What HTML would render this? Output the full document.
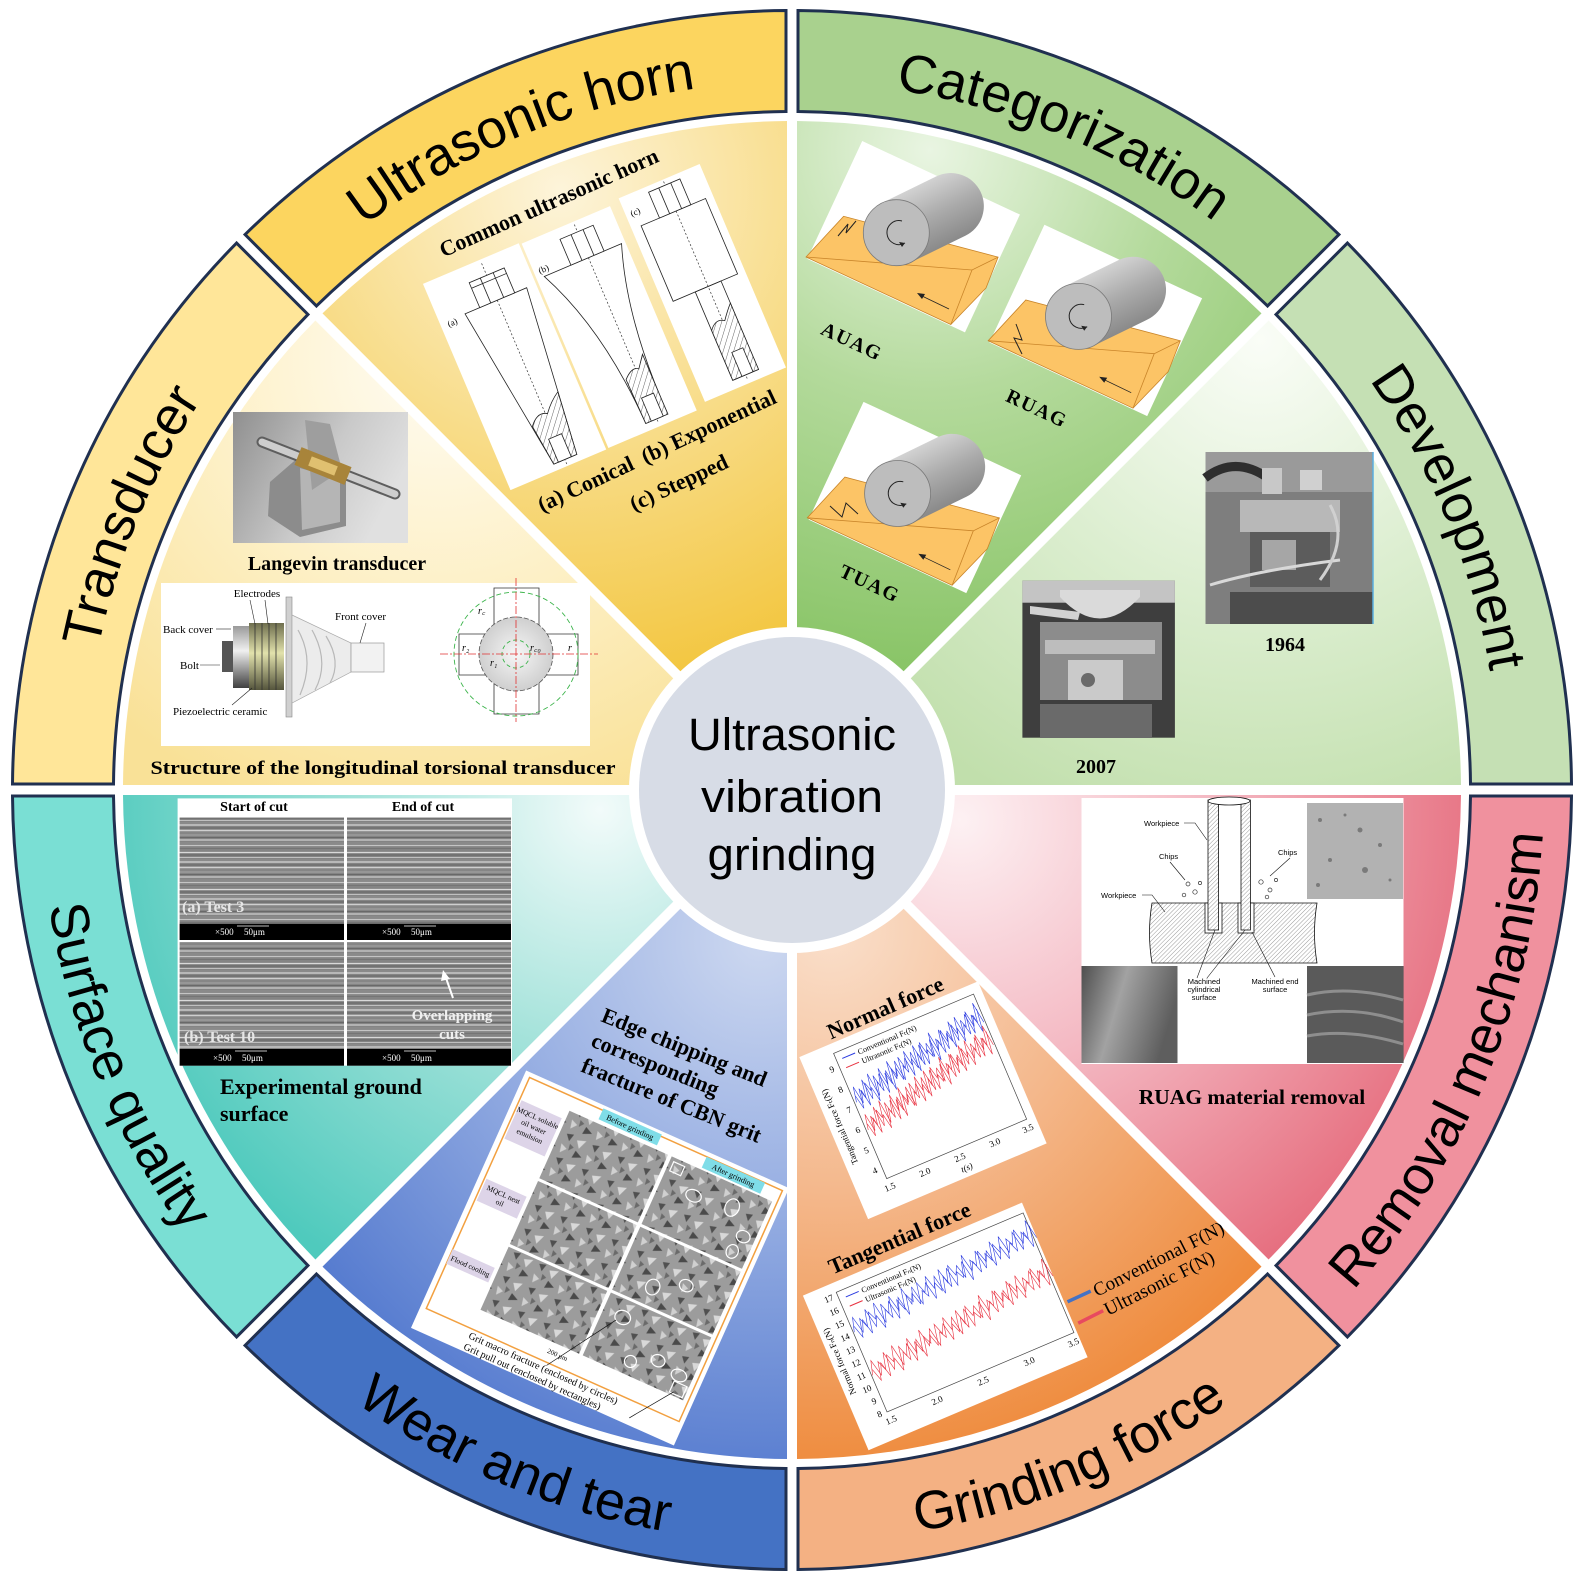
<!DOCTYPE html>
<html><head><meta charset="utf-8"><title>Ultrasonic vibration grinding</title>
<style>
html,body{margin:0;padding:0;background:#fff;}
svg{display:block;}
.rl{font-family:"Liberation Sans",Arial,sans-serif;font-size:54px;fill:#000;}
.sb{font-family:"Liberation Serif","Times New Roman",serif;font-weight:bold;fill:#000;}
.sr{font-family:"Liberation Serif","Times New Roman",serif;fill:#000;}
.ss{font-family:"Liberation Sans",Arial,sans-serif;fill:#000;}
.ln{fill:none;stroke:#222;stroke-width:0.8;}
.lw{fill:#fff;stroke:#222;stroke-width:0.8;}
</style></head><body>
<svg xmlns="http://www.w3.org/2000/svg" xmlns:xlink="http://www.w3.org/1999/xlink" width="1586" height="1583" viewBox="0 0 1586 1583">
<defs>
<radialGradient id="gHorn" gradientUnits="userSpaceOnUse" cx="560" cy="190" r="580"><stop offset="0" stop-color="#FDF4DA"/><stop offset="0.45" stop-color="#F8DC88"/><stop offset="1" stop-color="#F1BF28"/></radialGradient>
<radialGradient id="gTra" gradientUnits="userSpaceOnUse" cx="440" cy="360" r="480"><stop offset="0" stop-color="#FFFCF3"/><stop offset="0.5" stop-color="#FDF0C6"/><stop offset="1" stop-color="#F9E197"/></radialGradient>
<radialGradient id="gCat" gradientUnits="userSpaceOnUse" cx="930" cy="150" r="540"><stop offset="0" stop-color="#E9F5E2"/><stop offset="0.45" stop-color="#B4DA9C"/><stop offset="1" stop-color="#86C363"/></radialGradient>
<radialGradient id="gDev" gradientUnits="userSpaceOnUse" cx="1260" cy="340" r="520"><stop offset="0" stop-color="#FAFDF7"/><stop offset="0.5" stop-color="#DCEED0"/><stop offset="1" stop-color="#C1DFAC"/></radialGradient>
<radialGradient id="gRem" gradientUnits="userSpaceOnUse" cx="960" cy="820" r="560"><stop offset="0" stop-color="#FDF1F3"/><stop offset="0.45" stop-color="#F4B9C3"/><stop offset="1" stop-color="#E5697A"/></radialGradient>
<radialGradient id="gGri" gradientUnits="userSpaceOnUse" cx="830" cy="930" r="580"><stop offset="0" stop-color="#FADFCB"/><stop offset="0.45" stop-color="#F4B88C"/><stop offset="1" stop-color="#EE8532"/></radialGradient>
<radialGradient id="gWea" gradientUnits="userSpaceOnUse" cx="760" cy="940" r="600"><stop offset="0" stop-color="#CDD8F0"/><stop offset="0.45" stop-color="#95ADE2"/><stop offset="1" stop-color="#4A72CC"/></radialGradient>
<radialGradient id="gSur" gradientUnits="userSpaceOnUse" cx="600" cy="810" r="520"><stop offset="0" stop-color="#F2FBFA"/><stop offset="0.45" stop-color="#A6E3DB"/><stop offset="1" stop-color="#4FCABD"/></radialGradient>
<linearGradient id="cylG" gradientUnits="userSpaceOnUse" x1="882" y1="203" x2="911" y2="262"><stop offset="0" stop-color="#D2D2D2"/><stop offset="0.5" stop-color="#ABABAB"/><stop offset="1" stop-color="#8A8A8A"/></linearGradient>
<linearGradient id="photoL" x1="0" y1="0" x2="1" y2="0.4"><stop offset="0" stop-color="#8F8F8F"/><stop offset="0.6" stop-color="#C9C9C9"/><stop offset="1" stop-color="#E0E0E0"/></linearGradient>
<linearGradient id="elec" x1="0" y1="0" x2="0" y2="1"><stop offset="0" stop-color="#6E6E4E"/><stop offset="0.45" stop-color="#E2E2AC"/><stop offset="1" stop-color="#55553C"/></linearGradient>
<linearGradient id="back" x1="0" y1="0" x2="0" y2="1"><stop offset="0" stop-color="#9A9A9A"/><stop offset="0.4" stop-color="#F0F0F0"/><stop offset="1" stop-color="#404040"/></linearGradient>
<linearGradient id="bl" x1="0" y1="0" x2="1" y2="0.3"><stop offset="0" stop-color="#4E4E4E"/><stop offset="0.45" stop-color="#A2A2A2"/><stop offset="1" stop-color="#5E5E5E"/></linearGradient>
<radialGradient id="disc"><stop offset="0" stop-color="#F6F6F6"/><stop offset="1" stop-color="#CFCFCF"/></radialGradient>
<pattern id="hatch" patternUnits="userSpaceOnUse" width="5" height="5" patternTransform="rotate(40)"><rect width="5" height="5" fill="#fff"/><line x1="0" y1="0" x2="0" y2="5" stroke="#222" stroke-width="0.7"/></pattern>
<pattern id="hatch2" patternUnits="userSpaceOnUse" width="3" height="3" patternTransform="rotate(45)"><rect width="3" height="3" fill="#fff"/><line x1="0" y1="0" x2="0" y2="3" stroke="#555" stroke-width="0.6"/></pattern>
<pattern id="str" patternUnits="userSpaceOnUse" width="80" height="37">
<rect width="80" height="37" fill="#848484"/>
<line x1="0" y1="1.5" x2="80" y2="1.5" stroke="#D8D8D8" stroke-width="1.2"/>
<line x1="0" y1="4" x2="80" y2="4" stroke="#555" stroke-width="0.8"/>
<line x1="0" y1="6.5" x2="80" y2="6.5" stroke="#BFBFBF" stroke-width="1"/>
<line x1="0" y1="9" x2="80" y2="9" stroke="#9A9A9A" stroke-width="0.6"/>
<line x1="0" y1="11" x2="80" y2="11" stroke="#EDEDED" stroke-width="0.9"/>
<line x1="0" y1="14" x2="80" y2="14" stroke="#5A5A5A" stroke-width="0.7"/>
<line x1="0" y1="16.5" x2="80" y2="16.5" stroke="#CFCFCF" stroke-width="1.4"/>
<line x1="0" y1="19" x2="80" y2="19" stroke="#8A8A8A" stroke-width="0.6"/>
<line x1="0" y1="21" x2="80" y2="21" stroke="#B5B5B5" stroke-width="0.8"/>
<line x1="0" y1="23.5" x2="80" y2="23.5" stroke="#4E4E4E" stroke-width="0.6"/>
<line x1="0" y1="26" x2="80" y2="26" stroke="#E0E0E0" stroke-width="1"/>
<line x1="0" y1="29" x2="80" y2="29" stroke="#969696" stroke-width="0.7"/>
<line x1="0" y1="31.5" x2="80" y2="31.5" stroke="#C4C4C4" stroke-width="1.2"/>
<line x1="0" y1="34.5" x2="80" y2="34.5" stroke="#666" stroke-width="0.6"/>
</pattern>
<pattern id="grit" patternUnits="userSpaceOnUse" width="28" height="26">
<rect width="28" height="26" fill="#9C9C9C"/>
<polygon points="3,4 10,2 8,10" fill="#505050"/>
<polygon points="15,6 24,3 20,13" fill="#D8D8D8"/>
<polygon points="18,16 26,20 17,24" fill="#4A4A4A"/>
<polygon points="2,15 9,18 4,24" fill="#D0D0D0"/>
<polygon points="10,12 15,14 11,19" fill="#6A6A6A"/>
</pattern>
<polyline id="nz" fill="none" vector-effect="non-scaling-stroke" points="0,2.4 3,-9.6 6,6 9,-3.6 12,10.8 15,-7.2 18,1.2 21,-12 24,8.4 27,-2.4 30,7.2 33,-10.8 36,4.8 39,-6 42,12 45,-4.8 48,3.6 51,-8.4 54,9.6 57,-1.2 60,6 63,-10.8 66,2.4 69,-7.2 72,10.8 75,-3.6 78,8.4 81,-9.6 84,1.2 87,-6 90,7.2 93,-12 96,4.8 99,-2.4 102,9.6 105,-8.4 108,3.6 111,-4.8 114,10.8 117,-7.2 120,2.4 123,-10.8 126,6 129,-1.2 132,8.4 135,-9.6 138,4.8 141,-3.6 144,12 147,-6"/>
<path id="tpHorn" d="M291.4,289.4 A708,708 0 0 1 792,82"/>
<path id="tpCat" d="M792,82 A708,708 0 0 1 1292.6,289.4"/>
<path id="tpDev" d="M1292.6,289.4 A708,708 0 0 1 1500,790"/>
<path id="tpTra" d="M84,790 A708,708 0 0 1 291.4,289.4"/>
<path id="tpRem" d="M1323.75,1321.75 A752,752 0 0 0 1544,790"/>
<path id="tpGri" d="M792,1542 A752,752 0 0 0 1323.75,1321.75"/>
<path id="tpWea" d="M260.25,1321.75 A752,752 0 0 0 792,1542"/>
<path id="tpSur" d="M40,790 A752,752 0 0 0 260.25,1321.75"/>
</defs>

<rect width="1586" height="1583" fill="#fff"/>

<!-- content sectors -->
<path d="M812,795 L1461,795 A669,669 0 0 1 1268.59,1259.51 L809.68,800.6 Z" fill="url(#gRem)"/>
<path d="M802.6,807.68 L1261.51,1266.59 A669,669 0 0 1 797,1459 L797,810 Z" fill="url(#gGri)"/>
<path d="M787,810 L787,1459 A669,669 0 0 1 322.49,1266.59 L781.4,807.68 Z" fill="url(#gWea)"/>
<path d="M774.32,800.6 L315.41,1259.51 A669,669 0 0 1 123,795 L772,795 Z" fill="url(#gSur)"/>
<path d="M772,785 L123,785 A669,669 0 0 1 315.41,320.49 L774.32,779.4 Z" fill="url(#gTra)"/>
<path d="M781.4,772.32 L322.49,313.41 A669,669 0 0 1 787,121 L787,770 Z" fill="url(#gHorn)"/>
<path d="M797,770 L797,121 A669,669 0 0 1 1261.51,313.41 L802.6,772.32 Z" fill="url(#gCat)"/>
<path d="M809.68,779.4 L1268.59,320.49 A669,669 0 0 1 1461,785 L812,785 Z" fill="url(#gDev)"/>

<!-- ===== HORN content ===== -->
<g transform="translate(514.6,366.7) rotate(-23)">
<rect x="-52" y="-112" width="104" height="224" fill="#fff"/>
<line x1="10" y1="-108" x2="10" y2="110" stroke="#333" stroke-width="0.7" stroke-dasharray="2 2"/>
<polygon points="-25,-68 42,-68 23,105 -2,105" class="ln"/>
<path d="M-7,62 Q3,50 12,56 Q20,46 30,40 L23,105 L-2,105 Z" fill="url(#hatch)" stroke="#222" stroke-width="0.8"/>
<rect x="3" y="80" width="14" height="25" class="lw"/>
<rect x="-9" y="-95" width="38" height="27" class="lw"/>
<line x1="-9" y1="-89" x2="29" y2="-89" class="ln"/>
<line x1="3" y1="-95" x2="3" y2="-68" class="ln"/><line x1="17" y1="-95" x2="17" y2="-68" class="ln"/>
<text x="-45" y="-62" font-size="9" class="sr">(a)</text>
</g>
<g transform="translate(609.2,327.1) rotate(-23)">
<rect x="-48" y="-111" width="96" height="222" fill="#fff"/>
<line x1="8" y1="-108" x2="8" y2="108" stroke="#333" stroke-width="0.7" stroke-dasharray="2 2"/>
<path d="M-40,-72 L44,-72 Q18,0 20,103 L-4,103 Q-6,0 -40,-72 Z" class="ln"/>
<path d="M-5,55 Q5,45 11,50 Q17,42 20,38 L20,103 L-4,103 Z" fill="url(#hatch)" stroke="#222" stroke-width="0.8"/>
<rect x="2" y="78" width="13" height="25" class="lw"/>
<rect x="-11" y="-100" width="36" height="28" class="lw"/>
<line x1="1" y1="-100" x2="1" y2="-72" class="ln"/><line x1="14" y1="-100" x2="14" y2="-72" class="ln"/>
<text x="-43" y="-76" font-size="9" class="sr">(b)</text>
</g>
<g transform="translate(702.1,282.5) rotate(-23)">
<rect x="-44" y="-110" width="88" height="221" fill="#fff"/>
<line x1="4" y1="-108" x2="4" y2="108" stroke="#333" stroke-width="0.7" stroke-dasharray="2 2"/>
<rect x="-34" y="-76" width="70" height="82" class="ln"/>
<rect x="-10" y="6" width="28" height="96" class="ln"/>
<path d="M-10,48 Q-2,38 6,44 Q12,36 18,30 L18,102 L-10,102 Z" fill="url(#hatch)" stroke="#222" stroke-width="0.8"/>
<rect x="0" y="76" width="12" height="26" class="lw"/>
<rect x="-14" y="-104" width="34" height="28" class="lw"/>
<line x1="-3" y1="-104" x2="-3" y2="-76" class="ln"/><line x1="10" y1="-104" x2="10" y2="-76" class="ln"/>
<text x="-39" y="-88" font-size="9" class="sr">(c)</text>
</g>
<text class="sb" font-size="22" text-anchor="middle" transform="translate(549,203) rotate(-24)" y="7">Common ultrasonic horn</text>
<text class="sb" font-size="22" text-anchor="middle" transform="translate(657,451) rotate(-25)" y="7">(a) Conical&#160; (b) Exponential</text>
<text class="sb" font-size="22" text-anchor="middle" transform="translate(679,483) rotate(-25)" y="7">(c) Stepped</text>

<!-- ===== TRANSDUCER content ===== -->
<rect x="233" y="412" width="175" height="131" fill="url(#photoL)"/>
<polygon points="270,482 300,456 346,470 346,526 300,537 268,516" fill="#8C8C8C"/>
<polygon points="300,468 340,480 340,522 302,530" fill="#B5B5B5"/>
<polygon points="305,420 330,424 342,470 312,490" fill="#9E9E9E"/>
<line x1="262" y1="442" x2="395" y2="494" stroke="#5E5E5E" stroke-width="11" stroke-linecap="round"/>
<line x1="262" y1="442" x2="395" y2="494" stroke="#CDCDCD" stroke-width="7" stroke-linecap="round"/>
<line x1="298" y1="456" x2="348" y2="476" stroke="#A8843A" stroke-width="19"/>
<line x1="310" y1="461" x2="336" y2="471" stroke="#E0C070" stroke-width="10"/>
<text x="337" y="570" text-anchor="middle" font-size="20" class="sb">Langevin transducer</text>

<rect x="161" y="583" width="429" height="163" fill="#fff"/>
<rect x="222" y="641" width="12" height="31" fill="#555"/>
<rect x="233" y="626" width="16" height="62" fill="url(#back)"/>
<rect x="249" y="623" width="35" height="67" fill="url(#elec)"/>
<g stroke="#333" stroke-width="0.8"><line x1="255" y1="623" x2="255" y2="690"/><line x1="262" y1="623" x2="262" y2="690"/><line x1="269" y1="623" x2="269" y2="690"/><line x1="276" y1="623" x2="276" y2="690"/></g>
<rect x="286" y="597" width="6" height="120" fill="#D0D0D0" stroke="#888" stroke-width="0.6"/>
<polygon points="292,615 351,643 351,672 292,703" fill="#ECECEC" stroke="#AAA" stroke-width="0.7"/>
<g stroke="#B8B8B8" stroke-width="1.2" fill="none"><path d="M298,630 Q315,660 300,695"/><path d="M312,630 Q330,662 315,690"/><path d="M326,636 Q342,662 330,683"/></g>
<rect x="351" y="643" width="33" height="29" fill="#F2F2F2" stroke="#999" stroke-width="0.7"/>
<g class="sr" font-size="11">
<text x="257" y="597" text-anchor="middle">Electrodes</text>
<text x="163" y="633">Back cover</text>
<text x="180" y="669">Bolt</text>
<text x="173" y="715">Piezoelectric ceramic</text>
<text x="335" y="620">Front cover</text>
</g>
<g stroke="#222" stroke-width="0.6" fill="none">
<line x1="250" y1="600" x2="255" y2="624"/><line x1="265" y1="600" x2="268" y2="624"/>
<line x1="216" y1="629" x2="231" y2="629"/><line x1="200" y1="665" x2="220" y2="665"/>
<line x1="232" y1="705" x2="252" y2="688"/><line x1="366" y1="623" x2="360" y2="643"/>
</g>
<path d="M494,588 L539,588 L539,634 L578,634 L578,675 L539,675 L539,714 L494,714 L494,675 L459,675 L459,634 L494,634 Z" fill="#fff" stroke="#333" stroke-width="0.8"/>
<circle cx="516" cy="654" r="37" fill="url(#disc)" stroke="#555" stroke-width="0.8" stroke-dasharray="5 2"/>
<circle cx="516" cy="654" r="62" fill="none" stroke="#3CB44B" stroke-width="0.9" stroke-dasharray="5 3"/>
<circle cx="516" cy="654" r="14" fill="none" stroke="#3CB44B" stroke-width="0.9" stroke-dasharray="4 3"/>
<line x1="440" y1="654" x2="598" y2="654" stroke="#E03030" stroke-width="0.8" stroke-dasharray="8 2 2 2"/>
<line x1="516" y1="578" x2="516" y2="722" stroke="#E03030" stroke-width="0.8" stroke-dasharray="8 2 2 2"/>
<g class="sr" font-size="10" font-style="italic"><text x="462" y="651">r₂</text><text x="490" y="666">r₁</text><text x="530" y="651">r꜀₀</text><text x="568" y="651">r</text><text x="478" y="614">r꜀</text></g>
<text x="383" y="774" text-anchor="middle" font-size="19" class="sb" textLength="465" lengthAdjust="spacingAndGlyphs">Structure of the longitudinal torsional transducer</text>

<!-- ===== CATEGORIZATION content ===== -->
<g id="uag">
<rect x="-87" y="-65" width="174" height="130" fill="#fff" transform="translate(913.6,236.7) rotate(25)"/>
<polygon points="806,257 843.6,216.3 998.1,257.1 986,288 950.8,324.5" fill="#FCC466" stroke="#C9852A" stroke-width="0.8"/>
<polyline points="806,257 972,270 998.1,257.1" fill="none" stroke="#C9852A" stroke-width="0.8"/>
<line x1="972" y1="270" x2="950.8" y2="324.5" stroke="#C9852A" stroke-width="0.8"/>
<path d="M881.8,203 L936.3,176.4 A33,33 0 0 1 965.3,235.8 L910.8,262.4 Z" fill="url(#cylG)"/>
<circle cx="896.3" cy="232.7" r="33" fill="#BDBDBD" stroke="#7A7A7A" stroke-width="0.8"/>
<path d="M902,221 A12,12 0 1 0 905,243" fill="none" stroke="#222" stroke-width="1"/>
<polygon points="905,243 899,242 902,247" fill="#222"/>
<line x1="922" y1="296" x2="949" y2="309" stroke="#222" stroke-width="0.8"/>
<polygon points="917,293 925,294 922,299" fill="#222"/>
</g>
<use href="#uag" xlink:href="#uag" transform="translate(182.2,83.7)"/>
<use href="#uag" xlink:href="#uag" transform="translate(1.3,260.8)"/>
<g fill="none" stroke="#222" stroke-width="1">
<polyline points="838,236 848,224 846,233 856,221"/>
<polyline points="1016,324 1022,340 1014,338 1022,354"/>
<polyline points="830,506 842,517 846,503 858,514"/>
</g>
<g class="sb" font-size="20" letter-spacing="1.5" text-anchor="middle">
<text transform="translate(852,341) rotate(25)" y="7">AUAG</text>
<text transform="translate(1037,408) rotate(25)" y="7">RUAG</text>
<text transform="translate(870,583) rotate(25)" y="7">TUAG</text>
</g>

<!-- ===== DEVELOPMENT content ===== -->
<rect x="1205.5" y="452" width="168" height="172" fill="#7E7E7E"/>
<rect x="1205.5" y="452" width="168" height="40" fill="#9A9A9A"/>
<path d="M1205,478 Q1235,455 1268,478" fill="none" stroke="#2E2E2E" stroke-width="9"/>
<rect x="1262" y="468" width="20" height="26" fill="#C8C8C8"/>
<rect x="1300" y="470" width="22" height="20" fill="#D0D0D0"/>
<rect x="1240" y="500" width="100" height="32" fill="#B8B8B8"/>
<rect x="1250" y="532" width="80" height="55" fill="#5C5C5C"/>
<rect x="1262" y="540" width="34" height="30" fill="#A6A6A6"/>
<path d="M1210,585 Q1260,570 1340,560" fill="none" stroke="#D8D8D8" stroke-width="3"/>
<path d="M1330,505 Q1350,540 1320,580" fill="none" stroke="#D0D0D0" stroke-width="3"/>
<rect x="1230" y="592" width="143" height="32" fill="#4C4C4C"/>
<line x1="1373" y1="452" x2="1373" y2="624" stroke="#5AAEE0" stroke-width="1.5"/>
<text x="1285" y="651" text-anchor="middle" font-size="20" class="sb">1964</text>
<rect x="1022.4" y="580.7" width="152.5" height="157" fill="#3E3E3E"/>
<rect x="1022.4" y="580.7" width="152.5" height="22" fill="#C4C4C4"/>
<path d="M1060,597 Q1100,640 1140,597 L1140,590 L1060,590 Z" fill="#DADADA"/>
<polygon points="1030,606 1080,612 1078,620 1030,614" fill="#D2D2D2"/>
<rect x="1040" y="622" width="122" height="78" fill="#8C8C8C"/>
<rect x="1045" y="640" width="110" height="14" fill="#BDBDBD"/>
<rect x="1068" y="660" width="55" height="40" fill="#CACACA"/>
<circle cx="1088" cy="680" r="7" fill="#6A6A6A"/>
<rect x="1040" y="704" width="112" height="34" fill="#6A6A6A"/>
<text x="1096" y="773" text-anchor="middle" font-size="20" class="sb">2007</text>

<!-- ===== REMOVAL content ===== -->
<rect x="1081.5" y="798" width="322" height="266" fill="#fff"/>
<rect x="1307" y="803" width="96" height="96" fill="#B2B2B2"/>
<g fill="#7A7A7A"><circle cx="1320" cy="820" r="2"/><circle cx="1345" cy="815" r="1.5"/><circle cx="1360" cy="830" r="2.5"/><circle cx="1380" cy="845" r="2"/><circle cx="1330" cy="860" r="2"/><circle cx="1365" cy="870" r="3"/><circle cx="1390" cy="880" r="1.5"/><circle cx="1318" cy="885" r="2"/></g>
<rect x="1081.5" y="966" width="96" height="97" fill="url(#bl)"/>
<rect x="1307" y="966" width="96.6" height="97" fill="#5A5A5A"/>
<g fill="none" stroke="#8E8E8E" stroke-width="3"><path d="M1307,995 Q1350,985 1403,1000"/><path d="M1307,1015 Q1355,1005 1403,1022"/><path d="M1307,1036 Q1350,1028 1403,1044"/></g>
<path d="M1152,903 L1317,903 Q1312,933 1317,963 L1152,963 Q1147,933 1152,903 Z" fill="url(#hatch2)" stroke="#111" stroke-width="0.8"/>
<rect x="1205" y="903" width="17" height="30" fill="#fff" stroke="#111" stroke-width="0.8"/>
<rect x="1238" y="903" width="16" height="30" fill="#fff" stroke="#111" stroke-width="0.8"/>
<rect x="1208" y="800" width="10.6" height="130" fill="url(#hatch2)" stroke="#111" stroke-width="0.8"/>
<rect x="1241" y="800" width="9.4" height="130" fill="url(#hatch2)" stroke="#111" stroke-width="0.8"/>
<ellipse cx="1229" cy="801" rx="21" ry="4" fill="#fff" stroke="#111" stroke-width="0.8"/>
<g fill="none" stroke="#333" stroke-width="0.7"><circle cx="1188" cy="884" r="2"/><circle cx="1195" cy="892" r="2.2"/><circle cx="1184" cy="895" r="1.8"/><circle cx="1200" cy="883" r="1.6"/><circle cx="1261" cy="882" r="2.2"/><circle cx="1270" cy="890" r="2"/><circle cx="1276" cy="880" r="1.6"/><circle cx="1267" cy="897" r="1.8"/></g>
<g class="ss" font-size="7.5">
<text x="1144" y="826">Workpiece</text>
<text x="1159" y="859">Chips</text>
<text x="1278" y="855">Chips</text>
<text x="1101" y="898">Workpiece</text>
<text x="1204" y="984" text-anchor="middle">Machined</text>
<text x="1204" y="992" text-anchor="middle">cylindrical</text>
<text x="1204" y="1000" text-anchor="middle">surface</text>
<text x="1275" y="984" text-anchor="middle">Machined end</text>
<text x="1275" y="992" text-anchor="middle">surface</text>
</g>
<g stroke="#111" stroke-width="0.6" fill="none">
<path d="M1184,823 L1195,823 L1207,840"/><line x1="1170" y1="862" x2="1185" y2="880"/><line x1="1290" y1="858" x2="1270" y2="876"/>
<path d="M1142,895 L1152,895 L1165,912"/><line x1="1197" y1="978" x2="1215" y2="930"/><line x1="1207" y1="978" x2="1245" y2="930"/><line x1="1275" y1="977" x2="1252" y2="932"/>
</g>
<text x="1252" y="1104" text-anchor="middle" font-size="21.5" class="sb">RUAG material removal</text>

<!-- ===== GRINDING FORCE content ===== -->
<g transform="translate(919.3,1101.8) rotate(-23)">
<rect x="-93" y="-88" width="194" height="176" fill="#fff"/>
<rect x="-60" y="-78" width="152" height="136" fill="none" stroke="#444" stroke-width="0.7"/>
<g stroke="#2B3BE0" stroke-width="0.6">
<use href="#nz" xlink:href="#nz" transform="translate(-58,-27) skewY(-11) scale(1,1.25)"/>
<use href="#nz" xlink:href="#nz" transform="translate(-56.5,-27) skewY(-11) scale(1,-1.25)"/>
</g>
<g stroke="#E8303F" stroke-width="0.6">
<use href="#nz" xlink:href="#nz" transform="translate(-58,3) skewY(-13) scale(1,1.25)"/>
<use href="#nz" xlink:href="#nz" transform="translate(-56.5,3) skewY(-13) scale(1,-1.25)"/>
</g>
<g class="sr" font-size="9">
<text x="-70" y="-61">9</text><text x="-70" y="-39">8</text><text x="-70" y="-17">7</text><text x="-70" y="5">6</text><text x="-70" y="27">5</text><text x="-70" y="49">4</text>
<text x="-66" y="70">1.5</text><text x="-28" y="70">2.0</text><text x="10" y="70">2.5</text><text x="48" y="70">3.0</text><text x="84" y="70">3.5</text>
<text x="12" y="82" font-style="italic">t(s)</text>
<text transform="translate(-80,-8) rotate(-90)" text-anchor="middle">Tangential force Fₜ(N)</text>
</g>
<line x1="-54" y1="-70" x2="-40" y2="-70" stroke="#2B3BE0"/><text x="-37" y="-67" font-size="8" class="sr">Conventional Fₜ(N)</text>
<line x1="-54" y1="-60" x2="-40" y2="-60" stroke="#E8303F"/><text x="-37" y="-57" font-size="8" class="sr">Ultrasonic Fₜ(N)</text>
</g>
<g transform="translate(943.8,1328.1) rotate(-23)">
<rect x="-117" y="-85" width="238" height="168" fill="#fff"/>
<rect x="-85" y="-75" width="203" height="130" fill="none" stroke="#444" stroke-width="0.7"/>
<g stroke="#2B3BE0" stroke-width="0.6">
<use href="#nz" xlink:href="#nz" transform="translate(-84,-34) skewY(-5.6) scale(1.38,1.15)"/>
<use href="#nz" xlink:href="#nz" transform="translate(-82,-34) skewY(-5.6) scale(1.38,-1.15)"/>
</g>
<g stroke="#E8303F" stroke-width="0.6">
<use href="#nz" xlink:href="#nz" transform="translate(-84,13) skewY(-7.1) scale(1.38,1.15)"/>
<use href="#nz" xlink:href="#nz" transform="translate(-82,13) skewY(-7.1) scale(1.38,-1.15)"/>
</g>
<g class="sr" font-size="9">
<text x="-99" y="-69">17</text><text x="-99" y="-55">16</text><text x="-99" y="-41">15</text><text x="-99" y="-27">14</text><text x="-99" y="-13">13</text><text x="-99" y="1">12</text><text x="-99" y="15">11</text><text x="-99" y="29">10</text><text x="-95" y="43">9</text><text x="-95" y="57">8</text>
<text x="-90" y="67">1.5</text><text x="-40" y="67">2.0</text><text x="10" y="67">2.5</text><text x="60" y="67">3.0</text><text x="108" y="67">3.5</text>
<text transform="translate(-106,-10) rotate(-90)" text-anchor="middle">Normal force Fₙ(N)</text>
</g>
<line x1="-78" y1="-67" x2="-64" y2="-67" stroke="#2B3BE0"/><text x="-61" y="-64" font-size="8" class="sr">Conventional Fₙ(N)</text>
<line x1="-78" y1="-57" x2="-64" y2="-57" stroke="#E8303F"/><text x="-61" y="-54" font-size="8" class="sr">Ultrasonic Fₙ(N)</text>
</g>
<text class="sb" font-size="22" text-anchor="middle" transform="translate(885.4,1008) rotate(-23.7)" y="7">Normal force</text>
<text class="sb" font-size="22" text-anchor="middle" transform="translate(899.6,1238.4) rotate(-23.1)" y="7">Tangential force</text>
<line x1="1067.5" y1="1301.8" x2="1090.7" y2="1291.1" stroke="#4472C4" stroke-width="3.5"/>
<line x1="1078.2" y1="1323.2" x2="1103.2" y2="1310.7" stroke="#E84A5F" stroke-width="3.5"/>
<text class="sr" font-size="19" transform="translate(1097,1297) rotate(-26.8)">Conventional F(N)</text>
<text class="sr" font-size="19" transform="translate(1108,1316) rotate(-26.8)">Ultrasonic F(N)</text>

<!-- ===== WEAR content ===== -->
<text class="sb" font-size="22" transform="translate(600,1021) rotate(22)"><tspan x="0" y="0">Edge chipping and</tspan><tspan x="0" y="27">corresponding</tspan><tspan x="0" y="54">fracture of CBN grit</tspan></text>
<g transform="translate(600,1258) rotate(24.1)">
<rect x="-144" y="-141" width="288" height="282" fill="#fff"/>
<rect x="-138" y="-136" width="277" height="253" fill="none" stroke="#F2A040" stroke-width="1.5"/>
<rect x="-88" y="-122" width="108" height="74" fill="url(#grit)"/>
<rect x="-88" y="-45" width="108" height="69" fill="url(#grit)"/>
<rect x="-88" y="27" width="108" height="69" fill="url(#grit)"/>
<rect x="24" y="-122" width="110" height="74" fill="url(#grit)"/>
<rect x="24" y="-45" width="110" height="69" fill="url(#grit)"/>
<rect x="24" y="27" width="110" height="69" fill="url(#grit)"/>
<g fill="none" stroke="#fff" stroke-width="1.2">
<ellipse cx="60" cy="-95" rx="8" ry="6"/><ellipse cx="100" cy="-100" rx="7" ry="9"/><ellipse cx="122" cy="-78" rx="7" ry="6"/><ellipse cx="118" cy="-60" rx="6" ry="7"/>
<ellipse cx="90" cy="-10" rx="7" ry="6"/><ellipse cx="60" cy="5" rx="7" ry="8"/><ellipse cx="45" cy="45" rx="8" ry="7"/><ellipse cx="95" cy="70" rx="7" ry="6"/><ellipse cx="120" cy="75" rx="8" ry="6"/><ellipse cx="70" cy="82" rx="6" ry="6"/>
<rect x="28" y="-118" width="12" height="10"/><rect x="118" y="82" width="14" height="12"/>
</g>
<rect x="-58" y="-138" width="64" height="12" fill="#7FDDE8"/>
<text x="-26" y="-129" font-size="8" class="sr" text-anchor="middle">Before grinding</text>
<rect x="56" y="-136" width="64" height="12" fill="#7FDDE8"/>
<text x="88" y="-127" font-size="8" class="sr" text-anchor="middle">After grinding</text>
<rect x="-136" y="-112" width="44" height="42" fill="#DDD4E8"/>
<g class="sr" font-size="7.5" text-anchor="middle"><text x="-114" y="-100">MQCL soluble</text><text x="-114" y="-90">oil water</text><text x="-114" y="-80">emulsion</text></g>
<rect x="-136" y="-26" width="44" height="24" fill="#DDD4E8"/>
<g class="sr" font-size="7.5" text-anchor="middle"><text x="-114" y="-16">MQCL neat</text><text x="-114" y="-7">oil</text></g>
<rect x="-138" y="52" width="46" height="16" fill="#DDD4E8"/>
<text x="-115" y="63" font-size="7.5" class="sr" text-anchor="middle">Flood cooling</text>
<text x="-10" y="108" font-size="7" class="sr">200 μm</text>
<g class="sr" font-size="10"><text x="-88" y="127">Grit macro fracture (enclosed by circles)</text><text x="-88" y="139">Grit pull out (enclosed by rectangles)</text></g>
<line x1="-5" y1="120" x2="40" y2="50" stroke="#111" stroke-width="0.7"/>
<line x1="92" y1="134" x2="122" y2="92" stroke="#111" stroke-width="0.7"/>
</g>

<!-- ===== SURFACE content ===== -->
<rect x="177.6" y="798.4" width="334.4" height="267.3" fill="#fff"/>
<text x="254" y="811" text-anchor="middle" font-size="14" class="sb">Start of cut</text>
<text x="423" y="811" text-anchor="middle" font-size="14" class="sb">End of cut</text>
<rect x="179.6" y="817.6" width="164.4" height="106.1" fill="url(#str)"/>
<rect x="347" y="817.6" width="164" height="106.1" fill="url(#str)"/>
<rect x="179.6" y="942" width="164.4" height="107" fill="url(#str)"/>
<rect x="347" y="942" width="164" height="107" fill="url(#str)"/>
<rect x="179.6" y="923.7" width="164.4" height="16.3" fill="#000"/>
<rect x="347" y="923.7" width="164" height="16.3" fill="#000"/>
<rect x="179.6" y="1049" width="164.4" height="16.7" fill="#000"/>
<rect x="347" y="1049" width="164" height="16.7" fill="#000"/>
<g class="sr" font-size="9" style="fill:#fff">
<text x="215" y="935">×500</text><text x="244" y="935">50μm</text>
<text x="382" y="935">×500</text><text x="411" y="935">50μm</text>
<text x="213" y="1061">×500</text><text x="242" y="1061">50μm</text>
<text x="382" y="1061">×500</text><text x="411" y="1061">50μm</text>
</g>
<g stroke="#fff" stroke-width="0.8"><line x1="237" y1="926" x2="269" y2="926"/><line x1="404" y1="926" x2="436" y2="926"/><line x1="235" y1="1051" x2="267" y2="1051"/><line x1="404" y1="1051" x2="436" y2="1051"/></g>
<text x="182" y="912" font-size="16" class="sb" style="fill:#E6E6E6">(a) Test 3</text>
<text x="184" y="1042" font-size="16" class="sb" style="fill:#E6E6E6">(b) Test 10</text>
<text x="452" y="1020" text-anchor="middle" font-size="15" class="sb" style="fill:#F0F0F0">Overlapping</text>
<text x="452" y="1039" text-anchor="middle" font-size="15" class="sb" style="fill:#F0F0F0">cuts</text>
<line x1="453" y1="998" x2="446" y2="978" stroke="#fff" stroke-width="2"/>
<polygon points="443,970 441,981 450,979" fill="#fff"/>
<text x="220" y="1094" font-size="22" class="sb">Experimental ground</text>
<text x="220" y="1121" font-size="22" class="sb">surface</text>

<!-- ===== RING segments ===== -->
<g stroke="#203050" stroke-width="3" stroke-linejoin="miter">
<path d="M1571.5,796 A779.5,779.5 0 0 1 1347.43,1336.95 L1276.01,1265.53 A678.5,678.5 0 0 0 1470.5,796 Z" fill="#F0919E"/>
<path d="M1338.95,1345.43 A779.5,779.5 0 0 1 798,1569.5 L798,1468.5 A678.5,678.5 0 0 0 1267.53,1274.01 Z" fill="#F4B183"/>
<path d="M786,1569.5 A779.5,779.5 0 0 1 245.05,1345.43 L316.47,1274.01 A678.5,678.5 0 0 0 786,1468.5 Z" fill="#4472C4"/>
<path d="M236.57,1336.95 A779.5,779.5 0 0 1 12.5,796 L113.5,796 A678.5,678.5 0 0 0 307.99,1265.53 Z" fill="#7ADFD4"/>
<path d="M12.5,784 A779.5,779.5 0 0 1 236.57,243.05 L307.99,314.47 A678.5,678.5 0 0 0 113.5,784 Z" fill="#FFE699"/>
<path d="M245.05,234.57 A779.5,779.5 0 0 1 786,10.5 L786,111.5 A678.5,678.5 0 0 0 316.47,305.99 Z" fill="#FCD55F"/>
<path d="M798,10.5 A779.5,779.5 0 0 1 1338.95,234.57 L1267.53,305.99 A678.5,678.5 0 0 0 798,111.5 Z" fill="#A9D18E"/>
<path d="M1347.43,243.05 A779.5,779.5 0 0 1 1571.5,784 L1470.5,784 A678.5,678.5 0 0 0 1276.01,314.47 Z" fill="#C5E0B4"/>
</g>

<!-- ring labels -->
<text class="rl"><textPath href="#tpHorn" xlink:href="#tpHorn" startOffset="50%" text-anchor="middle">Ultrasonic horn</textPath></text>
<text class="rl"><textPath href="#tpCat" xlink:href="#tpCat" startOffset="50%" text-anchor="middle">Categorization</textPath></text>
<text class="rl"><textPath href="#tpDev" xlink:href="#tpDev" startOffset="50%" text-anchor="middle">Development</textPath></text>
<text class="rl"><textPath href="#tpTra" xlink:href="#tpTra" startOffset="50%" text-anchor="middle">Transducer</textPath></text>
<text class="rl"><textPath href="#tpRem" xlink:href="#tpRem" startOffset="50%" text-anchor="middle">Removal mechanism</textPath></text>
<text class="rl"><textPath href="#tpGri" xlink:href="#tpGri" startOffset="50%" text-anchor="middle">Grinding force</textPath></text>
<text class="rl"><textPath href="#tpWea" xlink:href="#tpWea" startOffset="50%" text-anchor="middle">Wear and tear</textPath></text>
<text class="rl"><textPath href="#tpSur" xlink:href="#tpSur" startOffset="50%" text-anchor="middle">Surface quality</textPath></text>

<!-- center -->
<circle cx="792" cy="790" r="163" fill="#fff"/>
<circle cx="792" cy="790" r="153" fill="#D7DCE6"/>
<text class="ss" x="688" y="750" font-size="45" textLength="208" lengthAdjust="spacingAndGlyphs">Ultrasonic</text>
<text class="ss" x="701" y="812" font-size="45" textLength="182" lengthAdjust="spacingAndGlyphs">vibration</text>
<text class="ss" x="707.5" y="870" font-size="45" textLength="169" lengthAdjust="spacingAndGlyphs">grinding</text>
</svg>
</body></html>
